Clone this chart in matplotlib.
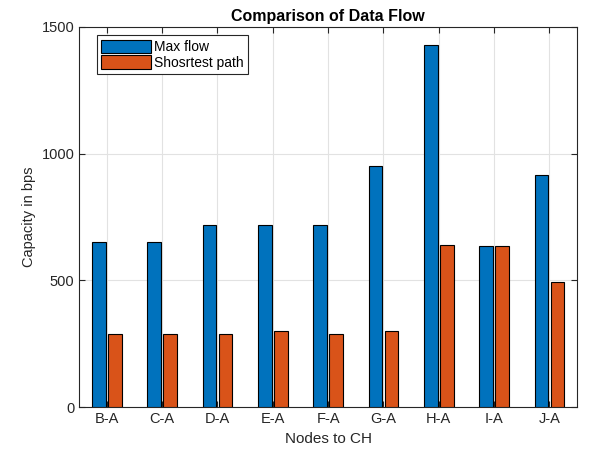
import numpy as np
import matplotlib.pyplot as plt

plt.rcParams['font.family'] = ['Liberation Sans', 'DejaVu Sans']

# Link capacities per node pair
nodes = ['B-A', 'C-A', 'D-A', 'E-A', 'F-A', 'G-A', 'H-A', 'I-A', 'J-A']
max_flow = [650, 650, 720, 720, 720, 950, 1430, 635, 915]
shortest_path = [290, 290, 290, 300, 290, 300, 640, 635, 495]

blue = '#0072BD'
orange = '#D95319'

fig = plt.figure(figsize=(5.95, 4.57), dpi=100)
ax = fig.add_axes([0.133, 0.109, 0.837, 0.832])

x = np.arange(1, len(nodes) + 1)
w = 0.25
off = 0.145
ax.bar(x - off, max_flow, w, color=blue, edgecolor='black', linewidth=0.8,
       label='Max flow', zorder=3)
ax.bar(x + off, shortest_path, w, color=orange, edgecolor='black', linewidth=0.8,
       label='Shosrtest path', zorder=3)

ax.set_xlim(0.5, 9.5)
ax.set_ylim(0, 1500)
ax.set_xticks(x)
ax.set_xticklabels(nodes)
ax.set_yticks([0, 500, 1000, 1500])
ax.grid(True, color='#e2e2e2', linewidth=0.8, zorder=0)
ax.tick_params(direction='in', top=True, right=True, labelsize=10.5, colors='#262626',
               length=4)
for s in ax.spines.values():
    s.set_linewidth(0.8)
    s.set_color('#262626')

ax.set_title('Comparison of Data Flow', fontsize=11.5, fontweight='bold', pad=4)
ax.set_xlabel('Nodes to CH', fontsize=11, color='#262626')
ax.set_ylabel('Capacity in bps', fontsize=10.5, color='#262626')

leg = ax.legend(loc='upper left', bbox_to_anchor=(0.03, 0.985), fontsize=10,
                fancybox=False, edgecolor='#262626', framealpha=1,
                handlelength=3.6, handleheight=1.1, handletextpad=0.2,
                borderpad=0.3, labelspacing=0.1, borderaxespad=0.2)
leg.get_frame().set_linewidth(0.8)

fig.savefig('out.png', dpi=100)
